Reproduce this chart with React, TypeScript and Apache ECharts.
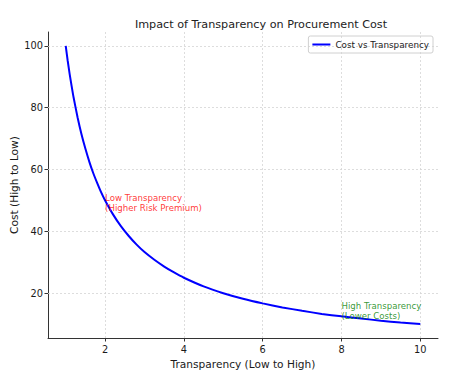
import React, { useEffect, useRef } from "react";
import * as echarts from "echarts";

const transparency = [1, 1.05, 1.1, 1.15, 1.2, 1.3, 1.4, 1.5, 1.6, 1.7, 1.8, 1.9, 2, 2.2, 2.4, 2.6, 2.8, 3, 3.25, 3.5, 3.75, 4, 4.5, 5, 5.5, 6, 6.5, 7, 7.5, 8, 8.5, 9, 9.5, 10];
const cost = [100, 95.2, 90.9, 87, 83.3, 76.9, 71.4, 66.7, 62.5, 58.8, 55.6, 52.6, 50, 45.5, 41.7, 38.5, 35.7, 33.3, 30.8, 28.6, 26.7, 25, 22.2, 20, 18.2, 16.7, 15.4, 14.3, 13.3, 12.5, 11.8, 11.1, 10.5, 10];
const xTicks = [2, 4, 6, 8, 10];
const yTicks = [20, 40, 60, 80, 100];
const annotations = [
  { x: 2, y: 50, text: "Low Transparency\n(Higher Risk Premium)", color: "#ff0000" },
  { x: 8, y: 15, text: "High Transparency\n(Lower Costs)", color: "#008000" },
];

const FONT = "DejaVu Sans";

export default function App() {
  const ref = useRef<HTMLDivElement>(null);
  useEffect(() => {
    const chart = echarts.init(ref.current!, null, { renderer: "svg" });
    const axisCommon = {
      axisLine: { show: true, lineStyle: { color: "#333", width: 1 } },
      axisTick: { show: true, length: 3.5, lineStyle: { color: "#333" } },
      splitLine: { show: false },
      axisLabel: { color: "#1a1a1a", fontSize: 9.8, fontFamily: FONT },
      nameTextStyle: { color: "#1a1a1a", fontSize: 10.6, fontFamily: FONT },
      nameLocation: "middle" as const,
      nameMoveOverlap: false,
    };
    chart.setOption({
      animation: false,
      backgroundColor: "#ffffff",
      title: {
        text: "Impact of Transparency on Procurement Cost",
        left: 256,
        top: 14,
        textAlign: "center",
        textStyle: { fontSize: 11.2, fontWeight: "normal", color: "#222", fontFamily: FONT },
      },
      legend: {
        data: ["Cost vs Transparency"],
        right: 16,
        top: 36,
        itemWidth: 18,
        itemHeight: 2,
        itemGap: 4,
        padding: [4, 4, 4, 4],
        borderColor: "#d0d0d0",
        borderWidth: 1,
        borderRadius: 2,
        textStyle: { fontSize: 8.8, color: "#222", fontFamily: FONT },
        icon: "rect",
      },
      grid: { left: 48, right: 11, top: 32, bottom: 36, containLabel: false, outerBoundsMode: "none" },
      xAxis: {
        ...axisCommon,
        type: "value",
        min: 0.55,
        max: 10.45,
        name: "Transparency (Low to High)",
        nameGap: 20,
        axisTick: { ...axisCommon.axisTick, customValues: xTicks },
        axisLabel: { ...axisCommon.axisLabel, customValues: xTicks, margin: 6 },
      },
      yAxis: {
        ...axisCommon,
        type: "value",
        min: 5.5,
        max: 104.5,
        name: "Cost (High to Low)",
        nameGap: 29,
        axisTick: { ...axisCommon.axisTick, customValues: yTicks },
        axisLabel: { ...axisCommon.axisLabel, customValues: yTicks, margin: 5 },
      },
      series: [
        {
          name: "Cost vs Transparency",
          type: "line",
          data: transparency.map((x, i) => [x, cost[i]]),
          smooth: 0.2,
          showSymbol: false,
          symbol: "none",
          lineStyle: { color: "#0000ff", width: 2 },
          itemStyle: { color: "#0000ff" },
          z: 3,
          markLine: {
            silent: true,
            symbol: "none",
            label: { show: false },
            z: 1,
            lineStyle: { color: "#d4d4d4", type: [2, 2], width: 0.8 },
            data: [
              ...xTicks.map((v) => ({ xAxis: v })),
              ...yTicks.map((v) => ({ yAxis: v })),
            ],
          },
        },
        {
          name: "annot",
          type: "scatter",
          symbolSize: 0,
          silent: true,
          z: 4,
          data: annotations.map((a) => ({
            value: [a.x, a.y],
            label: {
              show: true,
              position: [0, 0],
              align: "left",
              verticalAlign: "top",
              offset: [0, -8],
              formatter: a.text,
              color: a.color,
              fontSize: 8.6,
              lineHeight: 10.5,
              fontFamily: FONT,
            },
          })),
        },
      ],
    });
    return () => chart.dispose();
  }, []);
  return (
    <div
      ref={ref}
      style={{ position: "fixed", left: 0, top: 0, width: 449, height: 374 }}
    />
  );
}
